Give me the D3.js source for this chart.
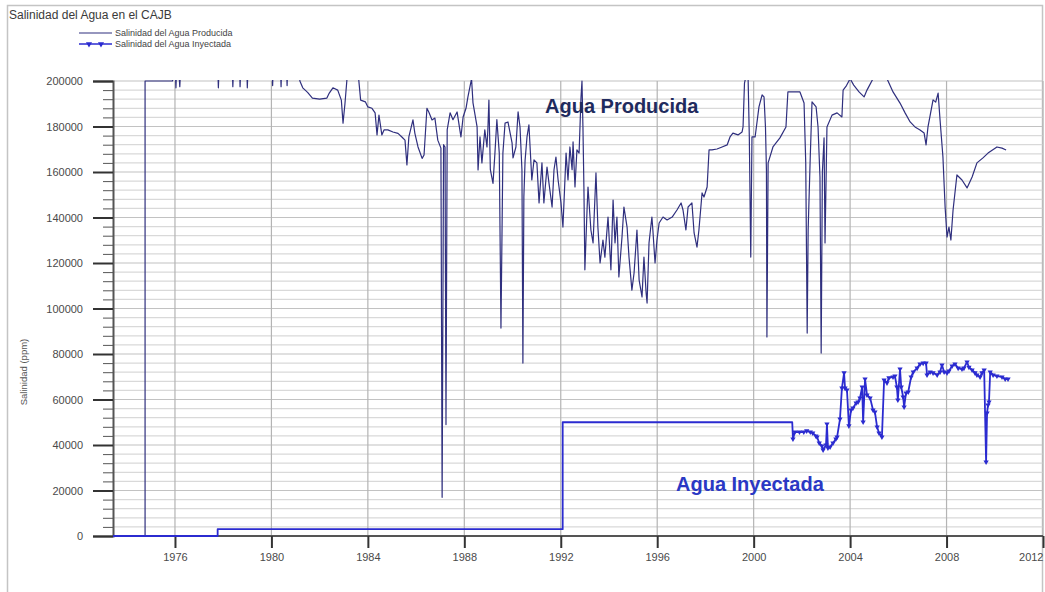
<!DOCTYPE html>
<html>
<head>
<meta charset="utf-8">
<script src="https://cdn.jsdelivr.net/npm/d3@7"></script>
<style>
  body { margin: 0; background: #fff; }
  text { font-family: "Liberation Sans", Arial, sans-serif; }
</style>
</head>
<body>
<svg id="chart" width="1045" height="592"></svg>
<script>
// Salinity of produced water, [decimal year, ppm]
const producida = [
  [1973.43,0],[1974.76,0],[1974.76,200000],[1975.9,200000],[1975.98,215000],[1976.04,197000],
  [1976.1,215000],[1976.2,197500],[1976.28,215000],[1977.75,215000],[1977.8,197000],[1977.86,215000],
  [1978.35,215000],[1978.4,197500],[1978.46,215000],[1978.66,215000],[1978.7,197500],[1978.76,215000],
  [1978.96,215000],[1979.0,197000],[1979.06,215000],[1980.0,215000],[1980.05,198000],[1980.1,215000],
  [1980.35,215000],[1980.4,197500],[1980.45,215000],[1980.6,215000],[1980.65,198000],[1980.7,215000],
  [1981.1,215000],[1981.18,200000],[1981.3,197000],[1981.5,195000],[1981.7,192500],[1982.0,192000],
  [1982.3,192500],[1982.4,194700],[1982.55,197000],[1982.75,196000],[1982.9,191600],[1982.97,181500],
  [1983.05,190000],[1983.15,203000],[1983.6,203000],[1983.7,191600],[1983.9,190800],[1984.0,188600],
  [1984.17,188000],[1984.3,186000],[1984.38,176300],[1984.46,185000],[1984.58,176300],[1984.67,178500],
  [1984.83,178500],[1985.04,177600],[1985.25,177000],[1985.41,175400],[1985.54,174000],[1985.62,163100],
  [1985.7,175400],[1985.87,182900],[1985.95,177000],[1986.08,171000],[1986.25,166000],[1986.33,167500],
  [1986.45,188000],[1986.54,186000],[1986.66,182900],[1986.78,183700],[1986.9,174000],[1987.03,170500],
  [1987.08,17000],[1987.14,172000],[1987.2,171000],[1987.24,49000],[1987.29,178500],[1987.41,186000],
  [1987.53,183000],[1987.7,186400],[1987.86,175400],[1987.95,184200],[1988.07,188000],[1988.15,193000],
  [1988.3,201000],[1988.36,190400],[1988.53,179800],[1988.57,160900],[1988.65,175400],[1988.73,164000],
  [1988.85,178500],[1988.94,171000],[1988.98,179400],[1989.02,191600],[1989.08,161000],[1989.19,155000],
  [1989.27,168300],[1989.35,183000],[1989.45,168300],[1989.52,91400],[1989.6,168300],[1989.69,181500],
  [1989.81,182000],[1989.98,172800],[1990.02,166200],[1990.14,171000],[1990.23,186400],[1990.31,179800],
  [1990.39,161000],[1990.43,76000],[1990.47,149000],[1990.52,165000],[1990.6,175400],[1990.68,180700],
  [1990.8,156500],[1990.89,165300],[1991.01,164000],[1991.1,146400],[1991.22,164000],[1991.3,146400],
  [1991.43,162200],[1991.51,155200],[1991.64,144600],[1991.72,161000],[1991.8,166600],[1991.89,156500],
  [1992.01,146400],[1992.09,135800],[1992.22,168300],[1992.3,156500],[1992.38,171000],[1992.47,161000],
  [1992.51,173200],[1992.59,153400],[1992.67,169700],[1992.76,168300],[1992.84,193000],[1992.88,200000],
  [1992.92,179800],[1992.96,153400],[1993.0,117000],[1993.09,143300],[1993.13,153400],[1993.25,134500],
  [1993.34,128800],[1993.46,159600],[1993.54,135800],[1993.63,120000],[1993.75,130100],[1993.83,122600],
  [1993.96,140200],[1994.08,117000],[1994.17,147700],[1994.25,128800],[1994.33,140200],[1994.41,113900],
  [1994.54,131400],[1994.62,144600],[1994.75,135800],[1994.83,122600],[1994.95,108100],[1995.04,115600],
  [1995.16,134500],[1995.25,112500],[1995.37,105100],[1995.45,122600],[1995.54,106800],[1995.58,102400],
  [1995.66,128800],[1995.78,140200],[1995.82,134500],[1995.91,120000],[1995.99,130100],[1996.08,137600],
  [1996.24,140200],[1996.41,138900],[1996.62,140200],[1996.82,143300],[1996.99,146400],[1997.07,143300],
  [1997.19,134500],[1997.28,144600],[1997.44,146400],[1997.53,133200],[1997.65,127000],[1997.73,134500],
  [1997.86,150800],[1997.94,149000],[1998.07,153400],[1998.15,169700],[1998.27,169700],[1998.48,170100],
  [1998.69,171000],[1998.9,171900],[1999.02,175400],[1999.14,177100],[1999.35,176300],[1999.52,177600],
  [1999.56,179800],[1999.62,199100],[1999.66,201000],[1999.77,201000],[1999.82,175400],[1999.88,122600],
  [1999.93,175400],[2000.06,175400],[2000.22,188600],[2000.35,193900],[2000.43,193000],[2000.49,179800],
  [2000.53,160900],[2000.55,87500],[2000.6,164000],[2000.8,171000],[2001.09,175000],[2001.34,179800],
  [2001.42,195200],[2001.92,195200],[2002.09,190300],[2002.16,164000],[2002.22,89200],[2002.26,134500],
  [2002.34,164000],[2002.42,190800],[2002.59,188600],[2002.67,179800],[2002.75,157800],[2002.8,80400],
  [2002.85,160000],[2002.92,175000],[2002.96,128800],[2003.04,179800],[2003.25,185000],[2003.46,186000],
  [2003.66,184200],[2003.71,196000],[2003.85,198000],[2004.0,201000],[2004.15,198200],[2004.37,195200],
  [2004.58,193000],[2004.7,196000],[2004.95,201000],[2005.53,201000],[2005.78,195200],[2006.07,190300],
  [2006.28,186000],[2006.49,182000],[2006.69,179800],[2006.9,178500],[2007.07,177100],[2007.15,171900],
  [2007.23,179800],[2007.44,191700],[2007.55,190700],[2007.65,194700],[2007.73,183000],[2007.85,166600],
  [2007.94,144600],[2008.02,131400],[2008.1,135800],[2008.18,130100],[2008.27,143300],[2008.43,158700],
  [2008.64,156500],[2008.85,153000],[2009.06,157800],[2009.26,164000],[2009.51,166200],[2009.72,168300],
  [2010.09,171000],[2010.3,170500],[2010.47,169700]
];

// Salinity of injected water: early design values, then measured readings
const inyectadaBase = [
  [1973.43,0],[1977.77,0],[1977.77,3000],[1992.08,3000],[1992.08,50000],[2001.6,50000]
];
const inyectadaMedida = [
  [2001.63,42600],[2001.71,45700],[2001.9,45700],[2002.08,45700],[2002.2,46200],[2002.35,45700],
  [2002.45,45300],[2002.58,44000],[2002.63,43500],[2002.72,40900],[2002.83,39600],[2002.88,37800],
  [2003.0,40000],[2003.04,49200],[2003.08,38700],[2003.17,39100],[2003.29,40900],[2003.41,42600],
  [2003.46,43500],[2003.58,51400],[2003.66,65000],[2003.75,71700],[2003.79,65000],[2003.87,64200],
  [2003.95,48400],[2004.04,55400],[2004.12,56300],[2004.25,58500],[2004.33,58900],[2004.41,60700],
  [2004.5,65500],[2004.54,50100],[2004.62,69000],[2004.7,62000],[2004.83,60700],[2004.95,55400],
  [2005.03,54500],[2005.12,47900],[2005.2,45300],[2005.32,43500],[2005.41,68600],[2005.53,67300],
  [2005.61,69500],[2005.78,69900],[2005.86,70300],[2005.94,65500],[2005.98,59800],[2006.07,73400],
  [2006.12,65500],[2006.2,61100],[2006.24,56700],[2006.32,62900],[2006.41,63300],[2006.53,69900],
  [2006.62,72100],[2006.78,73800],[2006.9,75600],[2007.03,76000],[2007.15,76000],[2007.19,70800],
  [2007.32,72100],[2007.44,71700],[2007.61,70800],[2007.73,72100],[2007.81,75200],[2007.9,72100],
  [2008.02,71700],[2008.1,72500],[2008.23,74700],[2008.35,75600],[2008.48,73800],[2008.64,73400],
  [2008.72,73800],[2008.85,76500],[2008.93,74200],[2009.06,73000],[2009.18,71700],[2009.26,70800],
  [2009.39,69900],[2009.47,71700],[2009.56,73000],[2009.64,32500],[2009.68,54100],[2009.72,57600],
  [2009.76,58900],[2009.81,72100],[2009.93,70800],[2010.09,70300],[2010.3,69900],[2010.43,69000],
  [2010.55,69000]
];

const yearDomain = [1973.43, 2012];
const ppmDomain = [0, 200000];
const xTickYears = [1976, 1980, 1984, 1988, 1992, 1996, 2000, 2004, 2008, 2012];
const yMajorTicks = [0, 20000, 40000, 60000, 80000, 100000, 120000, 140000, 160000, 180000, 200000];
const yMinorStep = 4000;

const titleText = "Salinidad del Agua en el CAJB";
const legendLabels = ["Salinidad del Agua Producida", "Salinidad del Agua Inyectada"];
const yAxisTitle = "Salinidad  (ppm)";
const annotProducida = "Agua Producida";
const annotInyectada = "Agua Inyectada";

const colProd = "#2f2f7e";
const colInj = "#2b2bd0";

const svg = d3.select("#chart");
const plot = { left: 113, right: 1043, top: 81, bottom: 536 };

const x = d3.scaleLinear().domain(yearDomain).range([plot.left, plot.right]);
const y = d3.scaleLinear().domain(ppmDomain).range([plot.bottom, plot.top]);

// outer frame
svg.append("rect").attr("x", 7.5).attr("y", 5.5).attr("width", 1035).attr("height", 600)
  .attr("fill", "none").attr("stroke", "#c4c4c4").attr("stroke-width", 1.5);

// title
svg.append("text").attr("x", 9).attr("y", 19).attr("font-size", 12).attr("fill", "#3a3a3a").text(titleText);

// legend
const lg = svg.append("g");
lg.append("line").attr("x1", 79).attr("x2", 112).attr("y1", 33).attr("y2", 33)
  .attr("stroke", colProd).attr("stroke-width", 1.2);
lg.append("text").attr("x", 115).attr("y", 36).attr("font-size", 9).attr("fill", "#444").text(legendLabels[0]);
lg.append("line").attr("x1", 79).attr("x2", 112).attr("y1", 44).attr("y2", 44)
  .attr("stroke", colInj).attr("stroke-width", 1.5);
const tri = d3.symbol().type(d3.symbolTriangle).size(16);
[89, 101].forEach(px => lg.append("path").attr("d", tri())
  .attr("transform", `translate(${px},44) rotate(180)`).attr("fill", colInj));
lg.append("text").attr("x", 115).attr("y", 47).attr("font-size", 9).attr("fill", "#444").text(legendLabels[1]);

// horizontal gridlines
const yMinor = d3.range(ppmDomain[0], ppmDomain[1] + 1, yMinorStep);
svg.append("g").selectAll("line").data(yMinor).join("line")
  .attr("x1", plot.left).attr("x2", plot.right)
  .attr("y1", d => y(d)).attr("y2", d => y(d))
  .attr("stroke", d => d % 20000 === 0 ? "#c2c2c2" : "#d9d9d9")
  .attr("stroke-width", 1.2);

// vertical gridlines
svg.append("g").selectAll("line").data(xTickYears).join("line")
  .attr("x1", d => x(d)).attr("x2", d => x(d))
  .attr("y1", plot.top).attr("y2", plot.bottom)
  .attr("stroke", "#b4b4b4").attr("stroke-width", 1.2);

// y axis: major and minor ticks
const yAxisMinor = d3.axisLeft(y).tickValues(yMinor.filter(v => v % 20000 !== 0)).tickSize(10).tickFormat("");
const gyMinor = svg.append("g").attr("transform", `translate(${plot.left},0)`).call(yAxisMinor);
gyMinor.select(".domain").remove();
gyMinor.selectAll(".tick line").attr("stroke", "#555").attr("stroke-width", 1);

const yAxis = d3.axisLeft(y).tickValues(yMajorTicks).tickSize(20).tickPadding(10).tickFormat(d3.format("d"));
const gy = svg.append("g").attr("transform", `translate(${plot.left},0)`).call(yAxis);
gy.select(".domain").attr("stroke", "#555").attr("stroke-width", 2);
gy.selectAll(".tick line").attr("stroke", "#333").attr("stroke-width", 2);
gy.selectAll(".tick text").attr("font-size", 11).attr("fill", "#4a4a4a")
  .attr("font-family", "Liberation Sans, Arial, sans-serif");

// x axis
const xAxis = d3.axisBottom(x).tickValues(xTickYears).tickSize(12).tickPadding(5).tickFormat(d3.format("d"));
const gx = svg.append("g").attr("transform", `translate(0,${plot.bottom})`).call(xAxis);
gx.select(".domain").attr("stroke", "#555").attr("stroke-width", 2).attr("d", `M${plot.left},0H${plot.right}`);
gx.selectAll(".tick line").attr("stroke", "#333").attr("stroke-width", 2);
gx.selectAll(".tick text").attr("font-size", 11).attr("fill", "#4a4a4a")
  .attr("font-family", "Liberation Sans, Arial, sans-serif");
// the last year label sits against the right edge
gx.selectAll(".tick text").filter(d => d === xTickYears[xTickYears.length - 1])
  .attr("text-anchor", "end").attr("dx", 0);

// y axis title
svg.append("text").attr("transform", "translate(27,372) rotate(-90)")
  .attr("text-anchor", "middle").attr("font-size", 9.5).attr("fill", "#555").text(yAxisTitle);

// data, clipped to the plotting area
svg.append("clipPath").attr("id", "plotClip").append("rect")
  .attr("x", plot.left).attr("y", plot.top - 1).attr("width", plot.right - plot.left).attr("height", plot.bottom - plot.top + 2);
const data = svg.append("g").attr("clip-path", "url(#plotClip)");

const line = d3.line().x(d => x(d[0])).y(d => y(d[1]));

data.append("path").datum(producida).attr("d", line)
  .attr("fill", "none").attr("stroke", colProd).attr("stroke-width", 1.2).attr("stroke-linejoin", "round");

const inyectada = inyectadaBase.concat(inyectadaMedida);
data.append("path").datum(inyectada).attr("d", line)
  .attr("fill", "none").attr("stroke", colInj).attr("stroke-width", 1.8).attr("stroke-linejoin", "round");

const mk = d3.symbol().type(d3.symbolTriangle).size(12);
data.append("g").selectAll("path").data(inyectadaMedida).join("path")
  .attr("d", mk())
  .attr("transform", d => `translate(${x(d[0])},${y(d[1])}) rotate(180)`)
  .attr("fill", colInj);

// annotations
svg.append("text").attr("x", 545).attr("y", 113).attr("font-size", 20).attr("font-weight", "bold")
  .attr("fill", "#1f2b5e").text(annotProducida);
svg.append("text").attr("x", 676).attr("y", 491).attr("font-size", 20).attr("font-weight", "bold")
  .attr("fill", "#2a38c4").text(annotInyectada);
</script>
</body>
</html>
